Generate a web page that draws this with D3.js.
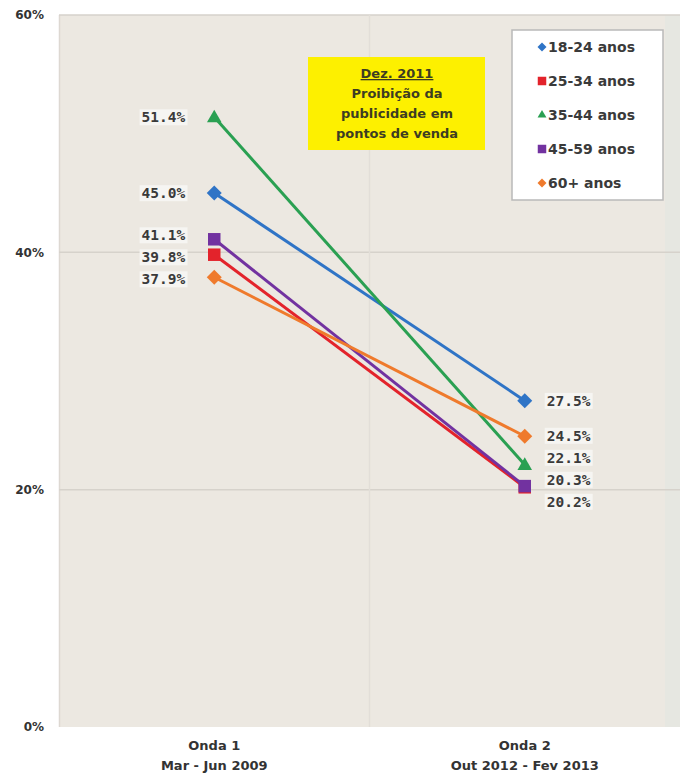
<!DOCTYPE html>
<html>
<head>
<meta charset="utf-8">
<script src="https://cdn.jsdelivr.net/npm/d3@7"></script>
<style>
  html, body { margin: 0; padding: 0; background: #fff; }
  svg { display: block; font-family: "DejaVu Sans", Verdana, sans-serif; }
</style>
</head>
<body>
<svg id="chart" width="680" height="778"></svg>
<script>
// Survey waves (x categories)
const waves = ["Onda 1", "Onda 2"];
const wavePeriods = ["Mar - Jun 2009", "Out 2012 - Fev 2013"];

// Age groups and their shares (%) in each wave
const groups = ["18-24 anos", "25-34 anos", "35-44 anos", "45-59 anos", "60+ anos"];
const onda1 = [45.0, 39.8, 51.4, 41.1, 37.9];
const onda2 = [27.5, 20.2, 22.1, 20.3, 24.5];

const colors = ["#2f74c6", "#e3232b", "#2aa052", "#7232a0", "#ef7a2c"];
const shapes = ["diamond", "square", "triangle", "square", "diamond"];

// Y axis ticks (%)
const yTicks = [0, 20, 40, 60];

// Annotation text
const noteTitle = "Dez. 2011";
const noteLines = ["Proibição da", "publicidade em", "pontos de venda"];

const svg = d3.select("#chart");
const plot = { left: 59, right: 680, top: 15, bottom: 727 };

const x = d3.scaleBand().domain(waves).range([plot.left, plot.right]);
const y = d3.scaleLinear().domain([0, 60]).range([plot.bottom, plot.top]);

// plot background
svg.append("rect")
  .attr("x", plot.left).attr("y", plot.top)
  .attr("width", plot.right - plot.left).attr("height", plot.bottom - plot.top)
  .attr("fill", "#ece8e1");
svg.append("rect")
  .attr("x", 665).attr("y", plot.top)
  .attr("width", plot.right - 665).attr("height", plot.bottom - plot.top)
  .attr("fill", "#e6e7e1");
svg.append("line")
  .attr("x1", plot.left + 0.5).attr("x2", plot.left + 0.5)
  .attr("y1", plot.top).attr("y2", plot.bottom)
  .attr("stroke", "#ddd8d2").attr("stroke-width", 1.5);

// horizontal gridlines
svg.append("g").selectAll("line")
  .data(yTicks.filter(d => d > 0))
  .join("line")
  .attr("x1", plot.left).attr("x2", plot.right)
  .attr("y1", d => y(d)).attr("y2", d => y(d))
  .attr("stroke", "#d6d2cb").attr("stroke-width", 1.5);

// vertical divider between the waves
svg.append("line")
  .attr("x1", x(waves[1])).attr("x2", x(waves[1]))
  .attr("y1", plot.top).attr("y2", plot.bottom)
  .attr("stroke", "#e2ded8").attr("stroke-width", 1.5);

// y axis
const yAxis = d3.axisLeft(y).tickValues(yTicks).tickFormat(d => d + "%").tickSize(0).tickPadding(0);
const yg = svg.append("g").attr("transform", `translate(44,0)`).call(yAxis);
yg.select(".domain").remove();
yg.selectAll("text")
  .attr("font-family", "DejaVu Sans, sans-serif")
  .attr("font-weight", "bold").attr("font-size", 12).attr("fill", "#333");

// x axis labels
const xAxis = d3.axisBottom(x).tickSize(0).tickPadding(0).tickFormat("");
const xg = svg.append("g").attr("transform", `translate(0,${plot.bottom})`).call(xAxis);
xg.select(".domain").remove();
xg.selectAll(".tick").each(function(d, i) {
  const t = d3.select(this).append("text")
    .attr("text-anchor", "middle").attr("fill", "#333")
    .attr("font-family", "DejaVu Sans, sans-serif")
    .attr("font-weight", "bold").attr("font-size", 13);
  t.append("tspan").attr("x", 0).attr("y", 23).text(d);
  t.append("tspan").attr("x", 0).attr("y", 43).text(wavePeriods[i]);
});

// annotation box
const note = svg.append("g");
note.append("rect")
  .attr("x", 308).attr("y", 57).attr("width", 177).attr("height", 93)
  .attr("fill", "#fdf000");
const noteX = 397;
note.append("text")
  .attr("x", noteX).attr("y", 78).attr("text-anchor", "middle")
  .attr("font-size", 13).attr("font-weight", "bold").attr("fill", "#3d3d22")
  .attr("text-decoration", "underline")
  .text(noteTitle);
note.selectAll("text.line").data(noteLines).join("text")
  .attr("class", "line")
  .attr("x", noteX).attr("y", (d, i) => 98 + i * 20)
  .attr("text-anchor", "middle").attr("font-size", 13)
  .attr("font-weight", "bold").attr("fill", "#3d3d22")
  .text(d => d);

// marker generator
function markerPath(shape, s) {
  if (shape === "diamond") return d3.symbol(d3.symbolSquare, s * s / 2)();
  if (shape === "square") return d3.symbol(d3.symbolSquare, s * s)();
  return d3.symbol(d3.symbolTriangle, s * s * 0.47)();
}
function markerRot(shape) { return shape === "diamond" ? 45 : 0; }
function markerSize(shape) { return shape === "diamond" ? 15 : shape === "triangle" ? 14 : 12.5; }

// series lines and markers
const series = groups.map((g, i) => ({
  name: g, color: colors[i], shape: shapes[i],
  values: [{ wave: waves[0], v: onda1[i] }, { wave: waves[1], v: onda2[i] }]
}));
const cx = w => x(w) + x.bandwidth() / 2;
const line = d3.line().x(d => cx(d.wave)).y(d => y(d.v));

const sg = svg.append("g").selectAll("g").data(series).join("g");
sg.append("path")
  .attr("d", d => line(d.values))
  .attr("fill", "none").attr("stroke", d => d.color).attr("stroke-width", 3);
sg.selectAll("path.marker").data(d => d.values.map(v => ({ ...v, s: d })))
  .join("path").attr("class", "marker")
  .attr("d", d => markerPath(d.s.shape, markerSize(d.s.shape)))
  .attr("transform", d => `translate(${cx(d.wave)},${y(d.v) + (d.s.shape === "triangle" ? 1 : 0)}) rotate(${markerRot(d.s.shape)})`)
  .attr("fill", d => d.s.color);

// value labels with simple overlap resolution
function spread(items, gap) {
  const sorted = items.slice().sort((a, b) => a.target - b.target);
  let clusters = sorted.map(d => ({ items: [d], center: d.target }));
  let changed = true;
  while (changed) {
    changed = false;
    for (let i = 0; i < clusters.length - 1; i++) {
      const a = clusters[i], b = clusters[i + 1];
      const aBottom = a.center + (a.items.length - 1) * gap / 2;
      const bTop = b.center - (b.items.length - 1) * gap / 2;
      if (bTop - aBottom < gap) {
        const items2 = a.items.concat(b.items);
        const center = d3.mean(items2, d => d.target);
        clusters.splice(i, 2, { items: items2, center });
        changed = true;
        break;
      }
    }
  }
  clusters.forEach(c => c.items.forEach((d, k) => {
    d.pos = c.center + (k - (c.items.length - 1) / 2) * gap;
  }));
  return sorted;
}

function drawLabels(values, wave, side) {
  const items = spread(values.map(v => ({ v, target: y(v) })), 22);
  const g = svg.append("g");
  const px = cx(wave) + (side === "left" ? -29 : 22);
  items.forEach(d => {
    const t = g.append("text")
      .attr("x", px).attr("y", d.pos).attr("dy", "0.36em")
      .attr("text-anchor", side === "left" ? "end" : "start")
      .attr("font-family", "DejaVu Sans Mono, monospace")
      .attr("font-weight", "bold")
      .attr("font-size", 14.5).attr("fill", "#3a3a3a")
      .text(d3.format(".1f")(d.v) + "%");
    const bb = t.node().getBBox();
    g.insert("rect", () => t.node())
      .attr("x", bb.x - 2).attr("y", bb.y)
      .attr("width", bb.width + 4).attr("height", bb.height)
      .attr("fill", "#f6f5f2");
  });
}
drawLabels(onda1, waves[0], "left");
drawLabels(onda2, waves[1], "right");

// legend
const lg = svg.append("g").attr("transform", "translate(512,30)");
lg.append("rect").attr("width", 151).attr("height", 170)
  .attr("fill", "#fff").attr("stroke", "#b9b9b9").attr("stroke-width", 1.5);
const li = lg.selectAll("g.item").data(series).join("g")
  .attr("class", "item")
  .attr("transform", (d, i) => `translate(0,${17 + i * 34})`);
li.append("path")
  .attr("d", d => markerPath(d.shape, d.shape === "diamond" ? 9 : 8.5))
  .attr("transform", d => `translate(30,0) rotate(${markerRot(d.shape)})`)
  .attr("fill", d => d.color);
li.append("text")
  .attr("x", 36).attr("dy", "0.36em")
  .attr("font-size", 14).attr("font-weight", "bold").attr("fill", "#3a3a3a")
  .text(d => d.name);
</script>
</body>
</html>
